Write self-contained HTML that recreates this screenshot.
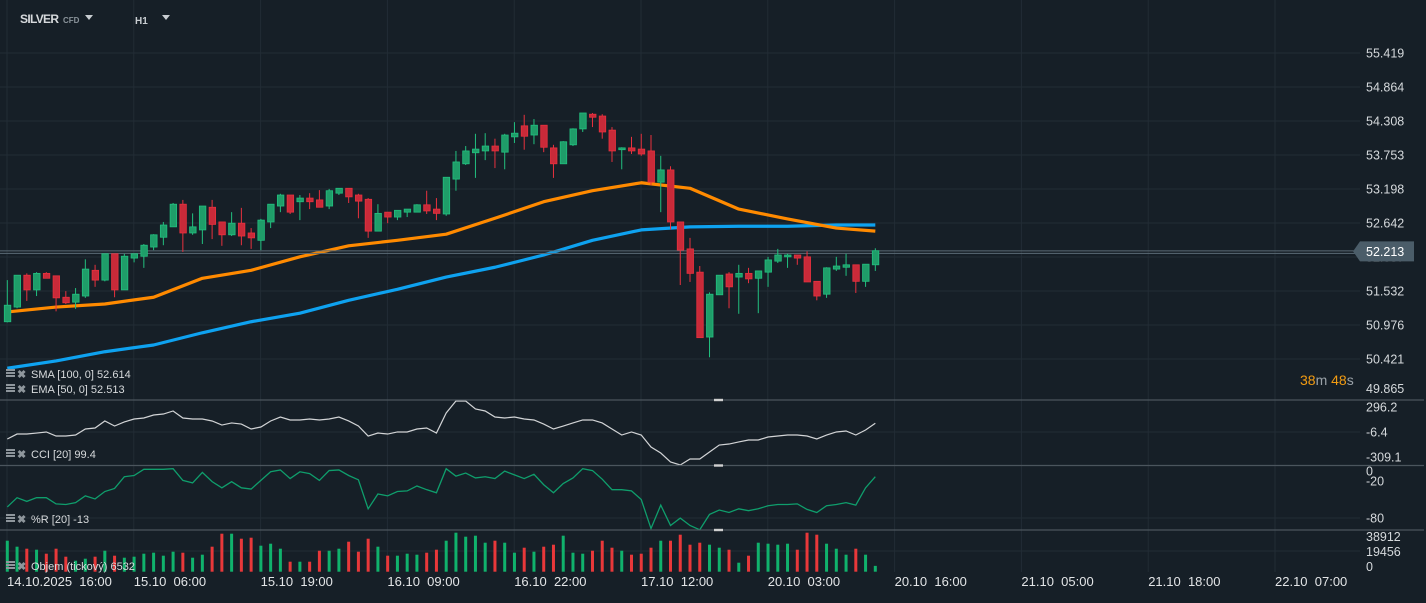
<!DOCTYPE html>
<html><head><meta charset="utf-8">
<style>
html,body{margin:0;padding:0;background:#161f27;}
body{width:1426px;height:598px;overflow:hidden;font-family:"Liberation Sans",sans-serif;}
svg text{font-family:"Liberation Sans",sans-serif;}
</style></head>
<body>
<svg id="chart" width="1426" height="598" xmlns="http://www.w3.org/2000/svg">
<rect x="0" y="0" width="1426" height="598" fill="#161f27"/>
<g id="grid"></g>
<g id="volG"></g>
<g id="lines"></g>
<g id="candles"></g>
<g id="ind"></g>
<g id="axes"></g>
<g>
 <text x="20" y="23" font-size="12" font-weight="bold" fill="#d6d9dc" textLength="39">SILVER</text>
 <text x="63" y="23" font-size="8" font-weight="bold" fill="#8a939a">CFD</text>
 <path d="M85 15 L93 15 L89 20 Z" fill="#c8cdd1"/>
 <text x="135" y="24" font-size="10" font-weight="bold" fill="#c8cdd1">H1</text>
 <path d="M162 15 L170 15 L166 20 Z" fill="#c8cdd1"/>
</g>
<g>
 <text x="1300" y="385" font-size="14" fill="#9aa2a8"><tspan fill="#f39c12">38</tspan>m <tspan fill="#f39c12">48</tspan>s</text>
</g>
</svg>
<script>
const open=[51.03,51.27,51.79,51.55,51.82,51.78,51.43,51.35,51.45,51.87,51.71,52.14,51.55,52.07,52.10,52.25,52.41,52.58,52.95,52.48,52.53,52.90,52.66,52.45,52.64,52.48,52.36,52.66,52.92,53.10,52.99,53.05,53.02,52.92,53.13,53.21,53.10,53.03,52.51,52.82,52.74,52.82,52.82,52.94,52.87,52.79,53.36,53.61,53.79,53.82,53.90,53.80,54.05,54.23,54.08,54.24,53.87,53.61,53.92,54.18,54.42,54.39,54.16,53.84,53.87,53.85,53.82,53.31,53.51,52.66,52.22,51.84,50.78,51.47,51.81,51.76,51.82,51.74,51.84,52.02,52.09,52.12,52.09,51.69,51.48,51.89,51.92,51.96,51.69,51.96];
const high=[51.71,51.79,51.82,51.84,51.84,51.78,51.53,51.58,52.05,51.96,52.14,52.14,52.14,52.14,52.30,52.46,52.66,52.97,53.02,52.80,52.92,53.02,52.66,52.82,52.89,52.56,52.71,52.95,53.12,53.10,53.10,53.13,53.18,53.20,53.21,53.21,53.12,53.05,52.95,52.82,52.85,52.87,52.95,53.17,53.05,53.39,53.82,53.90,54.10,54.11,54.02,54.10,54.29,54.41,54.34,54.24,53.92,53.98,54.19,54.44,54.44,54.42,54.21,53.88,54.05,54.10,54.08,53.74,53.57,52.66,52.40,51.94,51.51,51.79,51.84,51.96,51.91,51.86,52.09,52.22,52.14,52.12,52.18,51.69,51.92,52.09,52.14,51.96,51.97,52.23];
const low=[51.02,51.25,51.37,51.45,51.74,51.20,51.32,51.24,51.42,51.60,51.69,51.43,51.55,52.00,51.91,52.20,52.28,52.58,52.17,52.45,52.30,52.38,52.27,52.43,52.28,52.22,52.20,52.56,52.82,52.79,52.69,52.87,52.90,52.87,53.10,52.97,52.72,52.40,52.51,52.64,52.69,52.74,52.82,52.79,52.69,52.76,53.17,53.59,53.38,53.67,53.54,53.52,53.95,53.84,53.93,53.80,53.38,53.61,53.90,54.13,54.21,54.02,53.64,53.52,53.77,53.74,53.26,52.82,52.54,51.63,51.68,50.77,50.45,51.47,51.25,51.16,51.66,51.17,51.60,51.99,51.91,51.96,51.68,51.38,51.42,51.86,51.78,51.50,51.60,51.86];
const close=[51.30,51.79,51.55,51.82,51.74,51.42,51.34,51.48,51.89,51.71,52.14,51.55,52.10,52.14,52.28,52.45,52.61,52.95,52.48,52.58,52.92,52.62,52.45,52.64,52.43,52.40,52.69,52.95,53.10,52.82,53.05,52.99,52.90,53.17,53.21,53.07,53.00,52.51,52.80,52.74,52.85,52.87,52.94,52.84,52.80,53.39,53.64,53.82,53.85,53.90,53.82,54.08,54.11,54.06,54.24,53.88,53.61,53.97,54.18,54.44,54.37,54.13,53.82,53.87,53.82,53.77,53.31,53.51,52.66,52.20,51.82,50.77,51.48,51.79,51.60,51.82,51.73,51.86,52.04,52.12,52.12,52.07,51.68,51.45,51.91,51.94,51.96,51.69,51.97,52.19];
const volume=[34750,28030,25780,24660,20180,25780,16820,12330,14570,16820,23540,17940,15690,16820,20180,21300,17940,22420,21300,15690,19060,28030,42600,42600,36990,38110,29150,31390,25780,11210,11210,11210,23540,23540,25780,33630,22420,36990,28030,17940,17940,20180,19060,21300,24660,34750,43720,39240,40360,32510,34750,32510,21300,26900,22420,28030,30270,40360,21300,20180,23540,34750,26900,23540,19060,20180,26900,34750,34750,41480,30270,32510,30270,26900,24660,10090,17940,32510,31390,30270,31390,24660,43720,41480,31390,25780,19060,25780,19060,6532];
const cci=[-91,-31,-31,-19,-6,-55,-55,-43,30,42,127,66,115,151,163,199,211,248,163,151,151,127,78,103,90,30,54,127,175,139,139,151,139,151,175,127,66,-55,-19,-31,-6,-6,30,42,-19,224,369,369,272,248,175,163,175,151,139,90,30,66,103,139,139,103,30,-43,-6,-43,-188,-261,-369,-406,-333,-333,-248,-164,-152,-127,-103,-103,-67,-55,-43,-43,-55,-91,-43,-6,6,-43,18,99];
const willR=[-62,-47,-53,-47,-47,-57,-58,-55,-44,-49,-37,-32,-13,-11,-1,-1,-1,0,-19,-23,-6,-21,-31,-21,-31,-33,-19,-5,-2,-16,-5,-8,-19,-3,-2,-11,-18,-65,-41,-44,-37,-36,-28,-34,-39,0,-12,-7,-15,-13,-16,-4,-10,-16,-9,-26,-39,-24,-15,0,-3,-17,-34,-34,-36,-50,-97,-59,-92,-80,-92,-99,-74,-67,-71,-65,-68,-65,-60,-58,-58,-57,-66,-71,-60,-58,-55,-59,-31,-13];
const maIndex=[0,5,10,15,20,25,30,35,40,45,50,55,60,65,70,75,80,85,89];
const smaValues=[50.27,50.39,50.54,50.65,50.85,51.03,51.17,51.38,51.56,51.76,51.92,52.12,52.36,52.53,52.58,52.59,52.59,52.61,52.61];
const emaValues=[51.19,51.27,51.32,51.43,51.74,51.87,52.09,52.27,52.36,52.46,52.72,52.99,53.17,53.30,53.21,52.87,52.71,52.56,52.51];
const priceTicks=[55.419,54.864,54.308,53.753,53.198,52.642,52.087,51.532,50.976,50.421,49.865];
const cciTicks=[296.2,-6.4,-309.1];
const willTicks=[0,-20,-80];
const volTicks=[38912,19456,0];
const timeLabels=["14.10.2025  16:00","15.10  06:00","15.10  19:00","16.10  09:00","16.10  22:00","17.10  12:00","20.10  03:00","20.10  16:00","21.10  05:00","21.10  18:00","22.10  07:00"];
const lastPrice=52.213;

const NS="http://www.w3.org/2000/svg";
function mk(tag,attrs,parent){const e=document.createElementNS(NS,tag);for(const k in attrs)e.setAttribute(k,attrs[k]);parent.appendChild(e);return e;}
const X=i=>7.3+i*9.753;
const Y=p=>100+(54.652-p)*61.22;
const YC=v=>432-(v+6.4)/12.1;
const YW=v=>468.7-v*0.617;
const YV=v=>571.7-v/1121;
const G='#22c07f',R='#e8313e';

const grid=document.getElementById('grid');
for(let k=0;k<11;k++){
  const gx=7+126.8*k;
  const l=mk('line',{x1:gx,y1:0,x2:gx,y2:572,stroke:'#222c35','stroke-width':1},grid);
  
  
}
const axes=document.getElementById('axes');
priceTicks.forEach((v,i)=>{
  const y=Y(v);
  if(i<priceTicks.length-1){
    const l=mk('line',{x1:0,y1:y,x2:1360,y2:y,stroke:'#222c35','stroke-width':1},grid);
    
    
  }
  const t=mk('text',{x:1366,y:(i===priceTicks.length-1?y:y+4.5),'font-size':12.5,fill:'#d5d9dc'},axes);
  t.textContent=v.toFixed(3);
  
  
});
[432,518,551].forEach(y=>{const l=mk('line',{x1:0,y1:y,x2:1360,y2:y,stroke:'#222c35','stroke-width':1},grid);
  
  });
cciTicks.forEach(v=>{const t=mk('text',{x:1366,y:YC(v)+4.5,'font-size':12.5,fill:'#d5d9dc'},axes);t.textContent=v.toFixed(1);
  
  });
willTicks.forEach(v=>{const t=mk('text',{x:1366,y:YW(v)+(v===0?7:4.5),'font-size':12.5,fill:'#d5d9dc'},axes);t.textContent=String(v);
  
  });
volTicks.forEach((v,i)=>{const t=mk('text',{x:1366,y:541+i*15,'font-size':12.5,fill:'#d5d9dc'},axes);t.textContent=String(v);
  
  });
timeLabels.forEach((s,k)=>{const t=mk('text',{x:7+126.8*k,y:586,'font-size':13,fill:'#e3e5e7','xml:space':'preserve'},axes);t.style.whiteSpace='pre';t.textContent=s;
  
  });

[400,465.5,530].forEach(y=>{
  const l=mk('line',{x1:0,y1:y,x2:1424,y2:y,stroke:'#4b555d','stroke-width':1.2},axes);
  
  
  const h=mk('rect',{x:714,y:y-1.2,width:9,height:2.4,fill:'#d0d0d0'},axes);
  
  
});

const volG=document.getElementById('volG');
volume.forEach((v,i)=>{
  const up=close[i]>=open[i];
  const r=mk('rect',{x:X(i)-1.5,y:YV(v),width:3,height:571.7-YV(v),fill:up?'#10b26c':'#e8383a'},volG);
  
  
});

const lines=document.getElementById('lines');
const smaP=mk('polyline',{points:maIndex.map((k,j)=>X(k)+','+Y(smaValues[j])).join(' '),fill:'none',stroke:'#0ea2f0','stroke-width':3.2,'stroke-linejoin':'round'},lines);


const emaP=mk('polyline',{points:maIndex.map((k,j)=>X(k)+','+Y(emaValues[j])).join(' '),fill:'none',stroke:'#ff8a00','stroke-width':3.2,'stroke-linejoin':'round'},lines);



[Y(lastPrice)+1.5,Y(lastPrice)+4].forEach(y=>{const l=mk('line',{x1:0,y1:y,x2:1355,y2:y,stroke:'#5b6b76','stroke-width':1},lines);
  
  });

const cg=document.getElementById('candles');
open.forEach((o,i)=>{
  const c=close[i],up=c>=o,col=up?G:R,x=X(i);
  const w=mk('line',{x1:x,y1:Y(high[i]),x2:x,y2:Y(low[i]),stroke:col,'stroke-width':1},cg);
  
  
  const top=Y(Math.max(o,c)),bot=Y(Math.min(o,c));
  const b=mk('rect',{x:x-3,y:top,width:6.5,height:Math.max(1,bot-top),fill:up?'#1f9d69':'#c92a39',stroke:col,'stroke-width':0.8},cg);
  
  
});

const ind=document.getElementById('ind');
const cp=mk('polyline',{points:cci.map((v,i)=>X(i)+','+Math.max(400,Math.min(465,YC(v)))).join(' '),fill:'none',stroke:'#d2d4d6','stroke-width':1.2},ind);


const wp=mk('polyline',{points:willR.map((v,i)=>X(i)+','+YW(v)).join(' '),fill:'none',stroke:'#0f9e6c','stroke-width':1.3},ind);



function legend(y,txt,name){
  const g=mk('g',{},ind);
  
  
  mk('rect',{x:6,y:y-9,width:9,height:2,fill:'#8e969c'},g);
  mk('rect',{x:6,y:y-6,width:9,height:2,fill:'#8e969c'},g);
  mk('rect',{x:6,y:y-3,width:9,height:2,fill:'#8e969c'},g);
  const x=mk('text',{x:17,y:y,'font-size':11,'font-weight':'bold',fill:'#8e969c'},g);x.textContent='✖';
  const t=mk('text',{x:31,y:y,'font-size':11,fill:'#d8dbdd'},g);t.textContent=txt;
}
legend(378,'SMA [100, 0] 52.614','sma-legend');
legend(393,'EMA [50, 0] 52.513','ema-legend');
legend(458,'CCI [20]  99.4','cci-legend');
legend(523,'%R [20]  -13','williams-r-legend');
legend(570,'Objem  (tickový)  6532','volume-legend');

const py=Y(lastPrice)+2;
const pl=mk('polygon',{points:`1353,${py} 1360,${py-10} 1414,${py-10} 1414,${py+10} 1360,${py+10}`,fill:'#4b5d69'},axes);


const pt=mk('text',{x:1366,y:py+4.5,'font-size':12.5,fill:'#ffffff'},axes);
pt.textContent=lastPrice.toFixed(3);


</script>
</body></html>
